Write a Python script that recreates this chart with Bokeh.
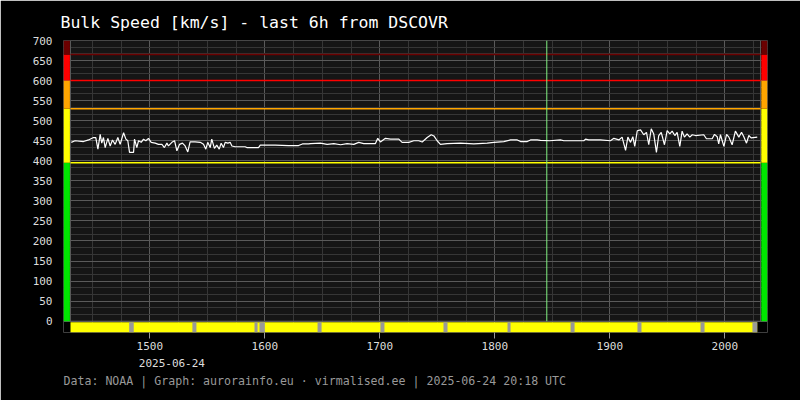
import numpy as np
import pandas as pd
from bokeh.plotting import figure
from bokeh.models import Range1d, FixedTicker, DatetimeTickFormatter, Title, LinearAxis
from bokeh.embed import file_html
from bokeh.resources import INLINE

# ---------------- data ----------------
TITLE = "Bulk Speed [km/s] - last 6h from DSCOVR"
FOOTER = "Data: NOAA | Graph: aurorainfo.eu · virmalised.ee | 2025-06-24 20:18 UTC"
DATE_LABEL = "2025-06-24"
WINDOW_START = pd.Timestamp("2025-06-24 14:18:36")
WINDOW_MINUTES = 360
MARKER_TIME = pd.Timestamp("2025-06-24 18:27:06")

minutes_1 = [0.4, 2.4, 6.8, 9.4, 12.0, 13.2, 14.3, 15.5, 16.3, 17.2, 18.1, 19.5, 20.7, 21.9, 23.3,
             24.7, 25.9, 27.7, 28.9, 29.9, 30.8, 32.9, 33.4, 34.6, 35.5, 36.9, 38.1, 39.3, 40.7, 42.1,
             44.2, 45.9, 47.7, 49.0, 50.3, 51.1, 52.9, 54.3, 55.5, 56.9, 58.4, 59.8, 61.2, 62.4, 65.0,
             67.7, 69.4, 70.6, 71.6, 72.9, 73.7, 75.1, 76.3, 77.6, 78.6, 79.8, 80.7, 82.1, 83.3, 84.2,
             85.9, 91.1, 92.0, 98.1, 99.0, 106.8, 113.7, 119.0, 121.0, 124.2]
speed_1 = [446, 450, 448, 452, 458, 458, 429, 466, 444, 458, 433, 456, 437, 452, 441,
           458, 441, 470, 454, 450, 421, 421, 454, 433, 450, 446, 454, 450, 456, 446,
           444, 441, 441, 433, 444, 437, 446, 450, 425, 441, 444, 437, 422, 447, 447,
           446, 441, 429, 446, 433, 454, 431, 439, 429, 444, 433, 446, 444, 446, 437,
           435, 435, 433, 433, 439, 439, 438, 438, 442, 442]

minutes_2 = [125.2, 130.4, 133.9, 137.4, 140.9, 144.3, 147.8, 150.4, 153.0, 159.1,
             160.3, 161.7, 164.3, 167.0, 171.3, 173.0, 176.5, 179.1, 181.7, 183.5,
             186.1, 188.2, 189.6, 191.3, 193.0, 196.5, 203.5, 210.4, 217.4, 220.9,
             226.1, 229.6, 233.1, 234.8, 238.3, 240.0, 243.5, 245.2, 250.0]
speed_2 = [443, 444, 441, 443, 440, 443, 441, 446, 443, 443,
           456, 447, 456, 454, 454, 446, 446, 450, 450, 447,
           458, 465, 462, 450, 441, 443, 444, 442, 444, 446,
           448, 452, 452, 448, 448, 452, 452, 451, 450]

minutes_3 = [255.6, 257.4, 267.8, 268.7, 270.4, 276.5, 281.7, 283.5, 286.1, 287.8,
             289.6, 290.8, 292.2, 293.4, 294.4, 295.7, 297.4, 299.1, 300.5, 301.7,
             303.0, 304.3, 305.7, 306.9, 308.2, 309.9, 311.3, 312.7, 313.9, 315.3,
             316.5, 317.9, 319.1, 320.3, 321.7, 323.1, 324.4, 326.1, 330.4, 331.8,
             334.8, 336.0, 337.4, 338.2, 339.1, 340.9, 342.3, 343.5, 345.2, 346.9,
             348.7, 350.1, 351.3, 352.7, 353.9, 355.1, 358.3]
speed_3 = [452, 450, 450, 454, 452, 452, 450, 456, 452, 459,
           426, 459, 446, 460, 436, 475, 477, 465, 471, 440,
           480, 467, 421, 463, 471, 440, 475, 467, 474, 463,
           471, 436, 474, 459, 467, 459, 465, 463, 465, 455,
           455, 466, 460, 442, 465, 436, 466, 459, 440, 474,
           459, 471, 460, 444, 463, 457, 459]

# speed zones (km/s)
zone_bottom = [0, 395, 530, 600, 665]
zone_top = [395, 530, 600, 665, 700]
zone_color = ["#00e600", "#ffff00", "#ffa500", "#ff0000", "#6b0000"]

# status bar gaps (minutes after window start, length in minutes)
gap_start_min = [30.6, 63.6, 96.0, 98.6, 128.9, 161.7, 194.6, 228.0, 260.9, 295.8, 328.7, 355.8]
gap_len_min = [2.4, 2.1, 1.6, 2.8, 2.1, 2.1, 2.1, 1.6, 2.1, 2.1, 2.1, 2.5]

y_ticks = list(range(0, 701, 50))

# ---------------- helpers ----------------
def at(m):
    return WINDOW_START + pd.to_timedelta(np.asarray(m, dtype=float), unit="m")

def ms(ts):
    return (pd.DatetimeIndex(ts) - pd.Timestamp("1970-01-01")) // pd.Timedelta("1ms")

minutes = minutes_1 + minutes_2 + minutes_3
speed = speed_1 + speed_2 + speed_3
times = at(minutes)
last_min = minutes[-1]

FONT = "DejaVu Sans Mono"
PAD = 3.65
Y_MIN = -28.2

p = figure(width=800, height=400, output_backend="svg", toolbar_location=None,
           x_axis_type="datetime",
           x_range=Range1d(at(-PAD), at(WINDOW_MINUTES + PAD)),
           y_range=Range1d(Y_MIN, 700),
           min_border_left=63, min_border_right=33, min_border_top=40, min_border_bottom=68)
p.background_fill_color = "#000000"
p.border_fill_color = "#000000"
p.outline_line_color = None

# plot background
p.quad(left=[at(0)], right=[at(WINDOW_MINUTES)], bottom=[0], top=[700],
       fill_color="#151515", line_color=None, level="image")

# ticks and grids
hours = pd.date_range("2025-06-24 15:00", "2025-06-24 20:00", freq="h")
quarters = pd.date_range("2025-06-24 14:30", "2025-06-24 20:15", freq="15min")
p.xaxis.ticker = FixedTicker(ticks=list(ms(hours)), minor_ticks=list(ms(quarters)))
p.yaxis.ticker = FixedTicker(ticks=y_ticks, minor_ticks=list(np.arange(0, 700.01, 50 / 3)))
fmt = "%H%M"
p.xaxis.formatter = DatetimeTickFormatter(hours=fmt, hourmin=fmt, minutes=fmt, minsec=fmt,
                                          seconds=fmt, days=fmt, months=fmt, years=fmt)
for g in (p.xgrid, p.ygrid):
    g.grid_line_color = "#5a5a5a"
    g.grid_line_width = 1
    g.minor_grid_line_color = "#363636"
p.xgrid.bounds = (int(ms([at(0)])[0]), int(ms([at(WINDOW_MINUTES)])[0]))
p.ygrid.bounds = (0, 700)

for ax in (p.xaxis, p.yaxis):
    ax.axis_line_color = None
    ax.minor_tick_line_color = None
    ax.major_label_text_font = FONT
    ax.major_label_text_font_size = "11px"
    ax.major_label_text_color = "#dddddd"
p.yaxis.major_tick_line_color = None
p.yaxis.major_label_standoff = 5
p.xaxis.major_tick_line_color = "#999999"
p.xaxis.major_tick_out = 6
p.xaxis.major_tick_in = 0
p.xaxis.major_label_standoff = 3

# date line under the first hour label
date_tick = int(ms([hours[0] + pd.Timedelta(minutes=11.5)])[0])
date_axis = LinearAxis(ticker=FixedTicker(ticks=[date_tick]),
                       major_label_overrides={date_tick: DATE_LABEL})
date_axis.axis_line_color = None
date_axis.major_tick_line_color = None
date_axis.minor_tick_line_color = None
date_axis.major_tick_out = 0
date_axis.major_tick_in = 0
date_axis.major_label_standoff = 6
date_axis.major_label_text_font = FONT
date_axis.major_label_text_font_size = "11px"
date_axis.major_label_text_color = "#dddddd"
p.add_layout(date_axis, "below")

# frame border of data area
p.quad(left=[at(0)], right=[at(WINDOW_MINUTES)], bottom=[0], top=[700],
       fill_alpha=0, line_color="#5a5a5a", line_width=1)

# zone bars at both sides
p.quad(left=[at(-PAD)] * 5, right=[at(-0.3)] * 5, bottom=zone_bottom, top=zone_top,
       fill_color=zone_color, line_color=None)
p.quad(left=[at(WINDOW_MINUTES + 0.4)] * 5, right=[at(WINDOW_MINUTES + PAD)] * 5,
       bottom=zone_bottom, top=zone_top, fill_color=zone_color, line_color=None)

# threshold lines (lower edge of each upper zone, in that zone's colour)
p.segment(x0=[at(0)] * 4, x1=[at(WINDOW_MINUTES)] * 4, y0=zone_bottom[1:], y1=zone_bottom[1:],
          line_color=zone_color[1:], line_width=1.5)

# marker line
p.segment(x0=[MARKER_TIME], x1=[MARKER_TIME], y0=[0], y1=[700], line_color="#80f080", line_width=1)

# status bar
p.quad(left=[at(0)], right=[at(last_min)], bottom=[Y_MIN], top=[-2.5],
       fill_color="#ffff00", line_color=None)
gs = np.asarray(gap_start_min)
gl = np.asarray(gap_len_min)
p.quad(left=at(gs), right=at(gs + gl), bottom=[Y_MIN] * len(gs), top=[-2.5] * len(gs),
       fill_color="#999999", line_color=None)

# speed line
p.line(times, speed, line_color="#ffffff", line_width=1.2)

# title and footer
p.title = Title(text=TITLE, align="left", offset=-3, standoff=18,
                text_font=FONT, text_font_size="16.5px", text_font_style="normal",
                text_color="#ffffff")
p.add_layout(Title(text=FOOTER, align="left", offset=0, standoff=4,
                   text_font=FONT, text_font_size="11.6px", text_font_style="normal",
                   text_color="#999999"), "below")

open("out.html", "w").write(file_html(p, INLINE))
